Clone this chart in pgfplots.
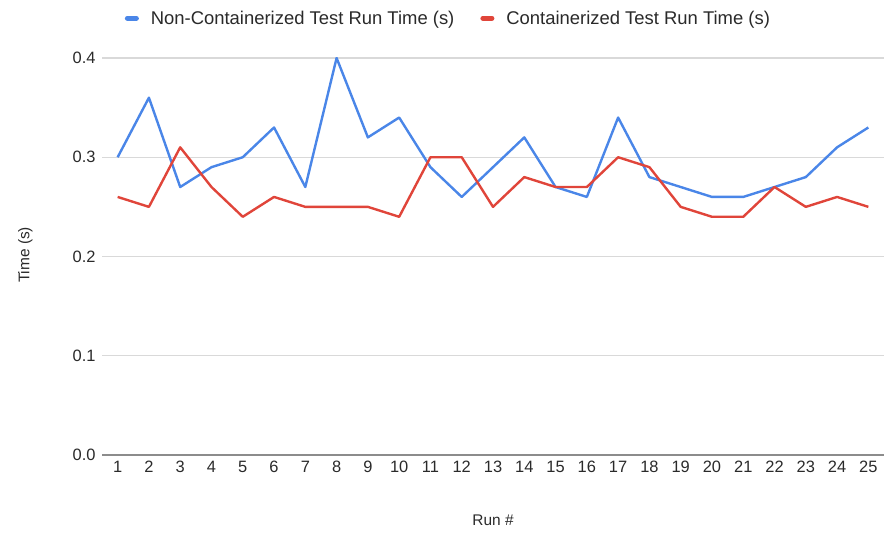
\documentclass[border=0pt]{standalone}
\usepackage{pgfplots}
\pgfplotsset{compat=1.18}
\usepackage{fontspec}
\setmainfont{Liberation Sans}
\definecolor{gblue}{HTML}{4A86E8}
\definecolor{gred}{HTML}{E0453A}
\definecolor{txt}{HTML}{2A2A2A}
\begin{document}
\begin{tikzpicture}[x=1bp,y=1bp]
\path[use as bounding box] (0,0) rectangle (886,533);
\begin{axis}[
  at={(102bp,78bp)}, anchor=south west,
  scale only axis, width=782bp, height=397bp,
  xmin=0.5, xmax=25.5, ymin=0, ymax=0.4,
  xtick={1,...,25}, ytick={0,0.1,0.2,0.3,0.4},
  yticklabel style={/pgf/number format/.cd, fixed, fixed zerofill, precision=1},
  /pgf/number format/assume math mode=true,
  ticklabel style={font=\fontsize{16.5}{19}\selectfont, text=txt},
  major tick length=0pt,
  axis line style={draw=none},
  ymajorgrids, grid style={color=black!15, line width=1.2bp},
  xticklabel shift=3bp, yticklabel shift=3bp,
  extra y ticks={0}, extra y tick labels={},
  extra y tick style={grid style={color=black!45, line width=1.5bp}},
  xlabel={Run \#}, ylabel={Time (s)},
  label style={font=\fontsize{15.5}{18}\selectfont, text=txt},
  xlabel style={at={(axis description cs:0.5,-0.164)}, anchor=center},
  ylabel style={at={(axis description cs:-0.098,0.504)}, anchor=center, rotate=0},
  legend columns=2,
  legend style={at={(axis description cs:0.443,1.10)}, anchor=center, draw=none,
    font=\fontsize{18.5}{21}\selectfont, text=txt,
    /tikz/every odd column/.append style={column sep=10bp},
    /tikz/every even column/.append style={column sep=24bp}},
  legend image code/.code={\draw[#1, line width=5bp, line cap=round] (0bp,0bp) -- (9bp,0bp);},
]
\addplot[gblue, line width=2.4bp, line join=round] coordinates {
(1,0.30) (2,0.36) (3,0.27) (4,0.29) (5,0.30) (6,0.33) (7,0.27) (8,0.40) (9,0.32) (10,0.34)
(11,0.29) (12,0.26) (13,0.29) (14,0.32) (15,0.27) (16,0.26) (17,0.34) (18,0.28) (19,0.27) (20,0.26)
(21,0.26) (22,0.27) (23,0.28) (24,0.31) (25,0.33)};
\addlegendentry{Non-Containerized Test Run Time (s)}
\addplot[gred, line width=2.4bp, line join=round] coordinates {
(1,0.26) (2,0.25) (3,0.31) (4,0.27) (5,0.24) (6,0.26) (7,0.25) (8,0.25) (9,0.25) (10,0.24)
(11,0.30) (12,0.30) (13,0.25) (14,0.28) (15,0.27) (16,0.27) (17,0.30) (18,0.29) (19,0.25) (20,0.24)
(21,0.24) (22,0.27) (23,0.25) (24,0.26) (25,0.25)};
\addlegendentry{Containerized Test Run Time (s)}
\end{axis}
\end{tikzpicture}
\end{document}
